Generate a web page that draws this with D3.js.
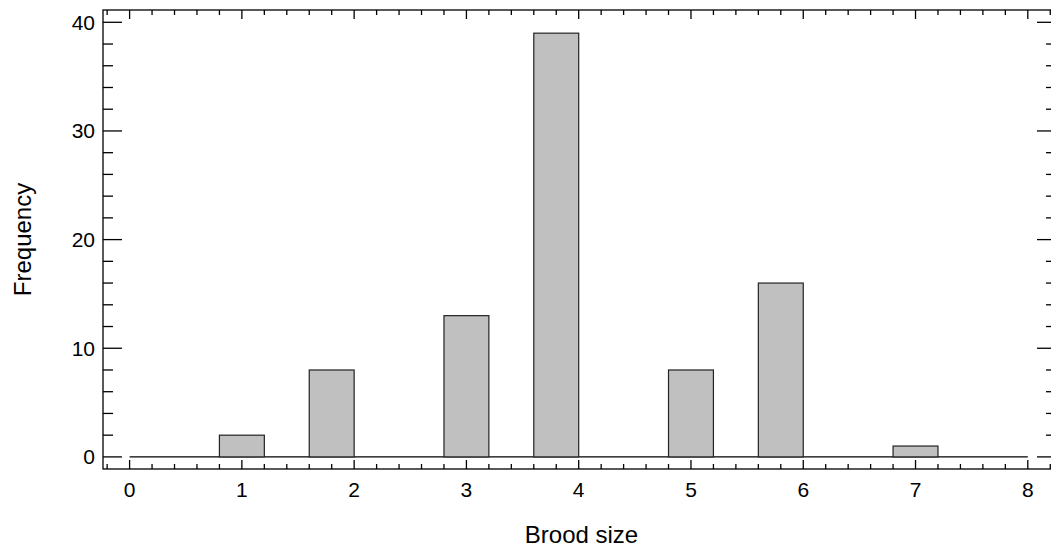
<!DOCTYPE html>
<html>
<head>
<meta charset="utf-8">
<script src="https://cdn.jsdelivr.net/npm/d3@7"></script>
<style>
html,body{margin:0;padding:0;background:#fff;}
svg{display:block;font-family:"Liberation Sans",Arial,sans-serif;}
</style>
</head>
<body>
<svg id="chart" width="1051" height="558"></svg>
<script>
// Data: histogram bins (lower edge, width 0.4) with counts
const binLower = [0.8, 1.6, 2.8, 3.6, 4.8, 5.6, 6.8];
const binWidth = 0.4;
const counts = [2, 8, 13, 39, 8, 16, 1];
const xTickValues = [0, 1, 2, 3, 4, 5, 6, 7, 8];
const yTickValues = [0, 10, 20, 30, 40];
const xLabel = "Brood size";
const yLabel = "Frequency";

const svg = d3.select("#chart");
const box = {left: 103, right: 1056, top: 10, bottom: 469};

const x = d3.scaleLinear().domain([0, 8]).range([129.6, 1027.8]);
const y = d3.scaleLinear().domain([0, 40]).range([456.9, 22.3]);

const xMinor = d3.range(-0.2, 8.6001, 0.2).filter(v => x(v) > box.left && x(v) < box.right);
const yMinor = d3.range(0, 42.001, 2).filter(v => y(v) > box.top && y(v) < box.bottom);

const g = svg.append("g");

// frame
g.append("rect")
  .attr("x", box.left).attr("y", box.top)
  .attr("width", box.right - box.left).attr("height", box.bottom - box.top)
  .attr("fill", "none").attr("stroke", "#000").attr("stroke-width", 1.3);

// ticks
const tickG = g.append("g").attr("stroke", "#000").attr("stroke-width", 1.3);
xMinor.forEach(v => {
  const isMajor = Math.abs(v - Math.round(v)) < 1e-6;
  const len = isMajor ? 9 : 5;
  tickG.append("line").attr("x1", x(v)).attr("x2", x(v))
    .attr("y1", box.bottom).attr("y2", box.bottom - len);
  tickG.append("line").attr("x1", x(v)).attr("x2", x(v))
    .attr("y1", box.top).attr("y2", box.top + len);
});
yMinor.forEach(v => {
  const isMajor = v % 10 === 0;
  const len = isMajor ? 19 : 10;
  tickG.append("line").attr("y1", y(v)).attr("y2", y(v))
    .attr("x1", box.left).attr("x2", box.left + len);
  tickG.append("line").attr("y1", y(v)).attr("y2", y(v))
    .attr("x1", box.right).attr("x2", box.right - len);
});

// baseline
g.append("line")
  .attr("x1", x(0)).attr("x2", x(8))
  .attr("y1", y(0)).attr("y2", y(0))
  .attr("stroke", "#000").attr("stroke-width", 1.3);

// bars
g.append("g").selectAll("rect")
  .data(binLower.map((l, i) => ({l, c: counts[i]})))
  .join("rect")
  .attr("x", d => x(d.l))
  .attr("width", d => x(d.l + binWidth) - x(d.l))
  .attr("y", d => y(d.c))
  .attr("height", d => y(0) - y(d.c))
  .attr("fill", "#c0c0c0")
  .attr("stroke", "#222")
  .attr("stroke-width", 1.2);

// tick labels
g.append("g").selectAll("text")
  .data(xTickValues).join("text")
  .attr("x", d => x(d)).attr("y", 496.5)
  .attr("text-anchor", "middle")
  .attr("font-size", 21)
  .text(d => d);

g.append("g").selectAll("text")
  .data(yTickValues).join("text")
  .attr("x", 95).attr("y", d => y(d))
  .attr("dy", "0.35em")
  .attr("text-anchor", "end")
  .attr("font-size", 21)
  .text(d => d);

// axis titles
svg.append("text")
  .attr("x", (box.left + box.right) / 2 + 2).attr("y", 543)
  .attr("text-anchor", "middle")
  .attr("font-size", 24)
  .text(xLabel);

svg.append("text")
  .attr("transform", `translate(31,${(box.top + box.bottom) / 2}) rotate(-90)`)
  .attr("text-anchor", "middle")
  .attr("font-size", 24)
  .text(yLabel);
</script>
</body>
</html>
